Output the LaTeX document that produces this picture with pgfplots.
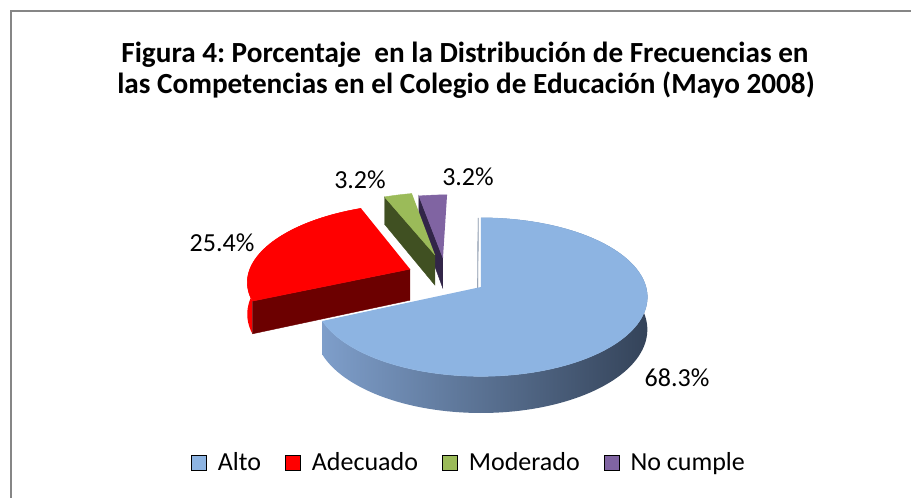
\documentclass[border=0pt]{standalone}
\usepackage{fontspec}
\setmainfont{Carlito}
\usepackage{pgfplots}
\usepackage{pgfplotstable}
\pgfplotsset{compat=1.18}
\frenchspacing

\definecolor{altoTop}{RGB}{141,180,226}
\definecolor{altoSideL}{RGB}{126,158,202}
\definecolor{altoSideR}{RGB}{52,67,89}
\definecolor{altoFace}{RGB}{80,100,130}
\definecolor{redTop}{RGB}{255,0,0}
\definecolor{redFace}{RGB}{108,0,0}
\definecolor{greenTop}{RGB}{155,187,89}
\definecolor{greenFace}{RGB}{64,80,34}
\definecolor{purpleTop}{RGB}{128,100,162}
\definecolor{purpleFace}{RGB}{50,38,72}
\definecolor{frameGray}{RGB}{134,134,134}

% value = percentage; eu, ev = explode offset of the slice (layout)
\pgfplotstableread{
name value eu ev
Alto 68.3 0 0
Adecuado 25.4 -0.443 -0.236
Moderado 3.2 -0.294 -0.433
Nocumple 3.2 -0.242 -0.390
}\piedata

\pgfplotstablegetelem{0}{value}\of\piedata \let\vA\pgfplotsretval
\pgfplotstablegetelem{1}{value}\of\piedata \let\vB\pgfplotsretval
\pgfplotstablegetelem{2}{value}\of\piedata \let\vC\pgfplotsretval
\pgfplotstablegetelem{3}{value}\of\piedata \let\vD\pgfplotsretval
\pgfplotstablegetelem{0}{eu}\of\piedata \let\euA\pgfplotsretval
\pgfplotstablegetelem{1}{eu}\of\piedata \let\euB\pgfplotsretval
\pgfplotstablegetelem{2}{eu}\of\piedata \let\euC\pgfplotsretval
\pgfplotstablegetelem{3}{eu}\of\piedata \let\euD\pgfplotsretval
\pgfplotstablegetelem{0}{ev}\of\piedata \let\evA\pgfplotsretval
\pgfplotstablegetelem{1}{ev}\of\piedata \let\evB\pgfplotsretval
\pgfplotstablegetelem{2}{ev}\of\piedata \let\evC\pgfplotsretval
\pgfplotstablegetelem{3}{ev}\of\piedata \let\evD\pgfplotsretval

\pgfmathsetmacro\tot{\vA+\vB+\vC+\vD}
\pgfmathsetmacro\aB{\vA/\tot*360}
\pgfmathsetmacro\aC{\aB+\vB/\tot*360}
\pgfmathsetmacro\aD{\aC+\vC/\tot*360}

% top face: color, eu, ev, a1, a2
\newcommand\slicetop[5]{%
 \addplot[fill=#1, draw=#1, line width=0.2pt, forget plot, variable=\t, samples at={-1,0,...,120}]
  ({QX(#2,#3,(\t>-0.5),#4+(#5-#4)*max(\t,0)/120)},
   {QY(#2,#3,(\t>-0.5),#4+(#5-#4)*max(\t,0)/120,0)});
}
% outer rim side: fill options, eu, ev, a1, a2
\newcommand\slicerim[5]{%
 \addplot[#1, draw=none, forget plot, variable=\t, samples at={0,1,...,241}]
  ({QX(#2,#3,1,#4+(#5-#4)*min(\t,241-\t)/120)},
   {QY(#2,#3,1,#4+(#5-#4)*min(\t,241-\t)/120,(\t>120.5))});
}
% radial cut face: color, eu, ev, angle
\newcommand\sliceface[4]{%
 \addplot[fill=#1, draw=#1, line width=0.2pt, forget plot, variable=\t, samples at={0,1,2,3}]
  ({QX(#2,#3,(\t>0.5)*(\t<2.5),#4)},
   {QY(#2,#3,(\t>0.5)*(\t<2.5),#4,(\t>1.5))});
}

\pgfplotsset{
 legend image code/.code={\fill[#1] (0pt,-3.75pt) rectangle (7.5pt,3.75pt); \path (11pt,0pt);}
}

\newcommand\lbl{\fontsize{13}{15}\selectfont}
\newcommand\ttl{\bfseries\fontsize{14.6}{17}\selectfont}

\begin{document}
\begin{tikzpicture}
\begin{axis}[
 scale only axis, width=455.5pt, height=249pt,
 xmin=0, xmax=911, ymin=0, ymax=498,
 hide axis, clip=false,
 declare function={
  sk(\pV)=1/(1-0.127*\pV);
  QX(\pE,\pF,\pR,\pA)=481+165*(\pE+\pR*sin(\pA))*sk(\pF-\pR*cos(\pA));
  QY(\pE,\pF,\pR,\pA,\pB)=211-78*(\pF-\pR*cos(\pA))*sk(\pF-\pR*cos(\pA))-\pB*32*sk(\pF-\pR*cos(\pA));
 },
 legend columns=4,
 legend style={at={(axis cs:470,35)}, anchor=center, draw=none, fill=none,
   font=\lbl, inner sep=0pt,
   /tikz/every even column/.append style={column sep=10pt}},
]
% frame
\draw[frameGray, line width=1pt] (axis cs:11,-10) -- (axis cs:11,487) -- (axis cs:930,487);

% No cumple
\sliceface{purpleFace}{\euD}{\evD}{\aD}
\slicetop{purpleTop}{\euD}{\evD}{\aD}{360}
% Moderado
\sliceface{greenFace}{\euC}{\evC}{\aC}
\slicetop{greenTop}{\euC}{\evC}{\aC}{\aD}
% Adecuado
\slicerim{fill=redTop}{\euB}{\evB}{\aB}{\aC}
\sliceface{redFace}{\euB}{\evB}{\aB}
\slicetop{redTop}{\euB}{\evB}{\aB}{\aC}
% Alto
\sliceface{altoFace}{\euA-0.02}{\evA}{0}
\slicerim{left color=altoSideL, right color=altoSideR}{\euA}{\evA}{0}{\aB}
\slicetop{altoTop}{\euA}{\evA}{0}{\aB}

% legend
\addlegendimage{fill=altoTop}\addlegendentry{Alto}
\addlegendimage{fill=redTop}\addlegendentry{Adecuado}
\addlegendimage{fill=greenTop}\addlegendentry{Moderado}
\addlegendimage{fill=purpleTop}\addlegendentry{No cumple}

% data labels
\node[font=\lbl] at (axis cs:222,255) {25.4\%};
\node[font=\lbl] at (axis cs:360,318) {3.2\%};
\node[font=\lbl] at (axis cs:468,321) {3.2\%};
\node[font=\lbl] at (axis cs:677,120) {68.3\%};

% title
\node[font=\ttl, anchor=base] at (axis cs:465,435.5) {Figura 4: Porcentaje\ \ en la Distribución de Frecuencias en};
\node[font=\ttl, anchor=base] at (axis cs:466,404.5) {las Competencias en el Colegio de Educación (Mayo 2008)};
\end{axis}
\pgfresetboundingbox
\path[use as bounding box] (current axis.south west) rectangle (current axis.north east);
\end{tikzpicture}
\end{document}
